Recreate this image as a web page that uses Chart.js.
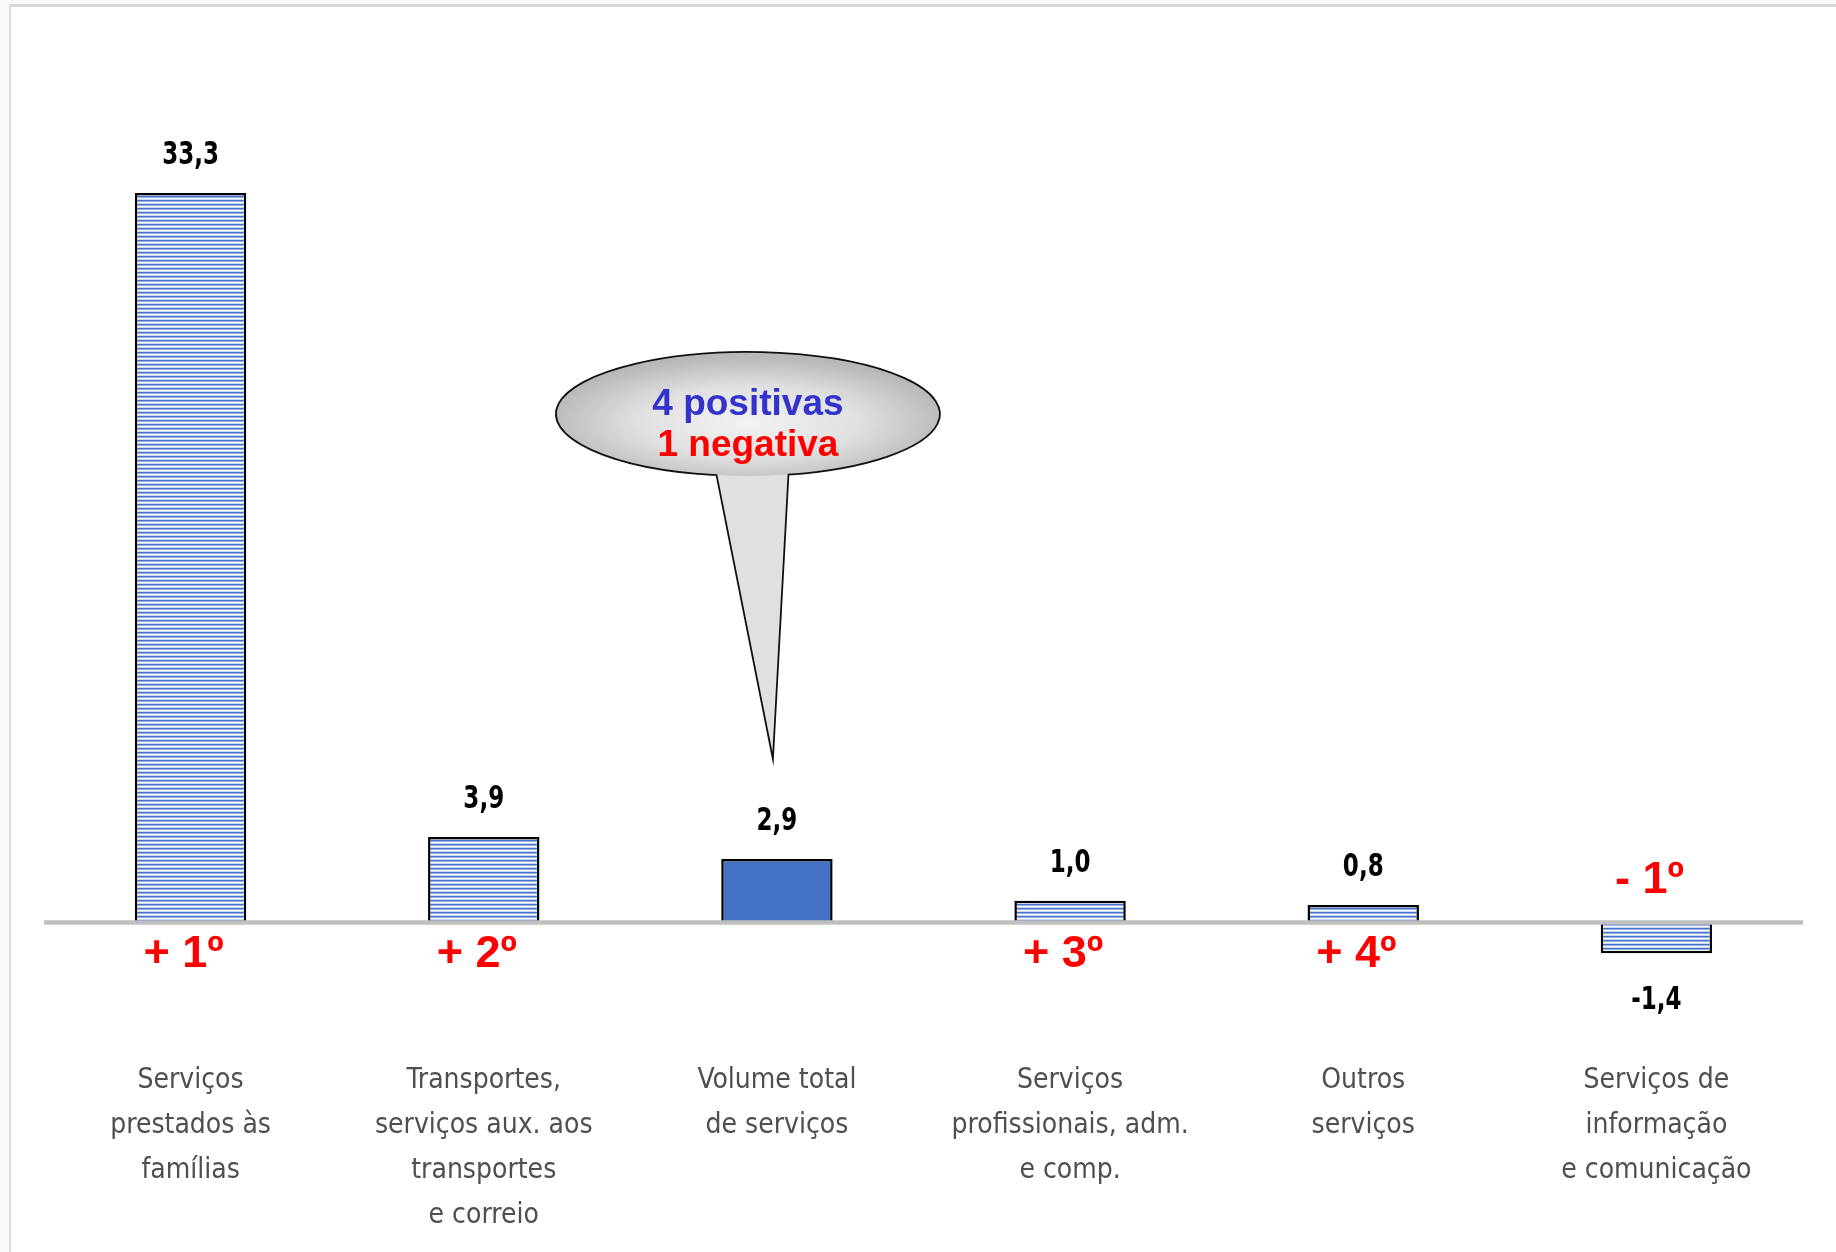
<!DOCTYPE html>
<html lang="pt">
<head>
<meta charset="utf-8">
<title>Volume de serviços</title>
<script src="https://cdn.jsdelivr.net/npm/chart.js@4"></script>
<style>
  html, body { margin: 0; padding: 0; background: #f9f9f9; overflow: hidden; }
  #frame {
    position: absolute; left: 9px; top: 4px; right: 0; bottom: 0;
    background: #fff;
    border-top: 3px solid #d6d6d6;
    border-left: 2px solid #dcdcdc;
  }
  #chart { position: absolute; left: 0; top: 0; }
</style>
</head>
<body>
<div id="frame"></div>
<canvas id="chart" width="1836" height="1252"></canvas>
<script>
// Chart data
const categories = [
  ['Serviços', 'prestados às', 'famílias'],
  ['Transportes,', 'serviços aux. aos', 'transportes', 'e correio'],
  ['Volume total', 'de serviços'],
  ['Serviços', 'profissionais, adm.', 'e comp.'],
  ['Outros', 'serviços'],
  ['Serviços de', 'informação', 'e comunicação']
];
const values = [33.3, 3.9, 2.9, 1.0, 0.8, -1.4];
const ranks = ['+ 1º', '+ 2º', '', '+ 3º', '+ 4º', '- 1º'];
const totalIndex = 2;
const calloutLines = ['4 positivas', '1 negativa'];

const NARROW = '"Liberation Sans Narrow", "DejaVu Sans Condensed", sans-serif';
const ARIAL = '"Liberation Sans", Arial, sans-serif';

// Horizontal stripe fill used by the sector bars
function makeStripes() {
  const c = document.createElement('canvas');
  c.width = 4;
  c.height = 4;
  const g = c.getContext('2d');
  const rows = ['#4472c4', '#93b2e6', '#ffffff', '#cad9f3'];
  rows.forEach((col, i) => {
    g.fillStyle = col;
    g.fillRect(0, i, 4, 1);
  });
  return g.createPattern(c, 'repeat');
}

const ctx = document.getElementById('chart').getContext('2d');
const stripes = makeStripes();
const barColors = values.map((v, i) => i === totalIndex ? '#4472c4' : stripes);

// condensed text, a bit like Calibri
function narrowText(c, txt, x, y, sx) {
  c.save();
  c.translate(x, y);
  c.scale(sx, 1);
  c.fillText(txt, 0, 0);
  c.restore();
}

// Zero line, value labels, ranking labels and the callout
const overlayPlugin = {
  id: 'overlay',
  afterDatasetsDraw(chart) {
    const c = chart.ctx;
    const area = chart.chartArea;
    const y0 = chart.scales.y.getPixelForValue(0);
    const bars = chart.getDatasetMeta(0).data;

    c.save();
    c.strokeStyle = '#c0c0c0';
    c.lineWidth = 4.5;
    c.beginPath();
    c.moveTo(area.left, y0);
    c.lineTo(area.right, y0);
    c.stroke();

    // values
    c.textAlign = 'center';
    c.textBaseline = 'middle';
    c.fillStyle = '#000';
    c.font = 'bold 32px ' + NARROW;
    bars.forEach((bar, i) => {
      const txt = values[i].toFixed(1).replace('.', ',');
      const y = values[i] >= 0 ? bar.y - 37 : bar.y + 47;
      narrowText(c, txt, bar.x, y, 0.8);
    });

    // ranking
    c.fillStyle = '#ff0000';
    c.font = 'bold 45px ' + ARIAL;
    bars.forEach((bar, i) => {
      if (!ranks[i]) return;
      const y = values[i] >= 0 ? y0 + 32 : y0 - 42;
      c.fillText(ranks[i], bar.x - 7, y);
    });

    // callout pointing at the total bar
    const tb = bars[totalIndex];
    const cx = tb.x - 29, cy = tb.y - 445, rx = 192, ry = 62;
    const tipX = tb.x - 4, tipY = tb.y - 100;
    const tL = 1.735, tR = 1.358;
    const shape = () => {
      c.beginPath();
      c.ellipse(cx, cy, rx, ry, 0, tL, tR);
      c.lineTo(tipX, tipY);
      c.closePath();
    };
    shape();
    c.fillStyle = '#e0e0e0';
    c.fill();

    c.save();
    c.beginPath();
    c.ellipse(cx, cy, rx, ry, 0, 0, Math.PI * 2);
    c.clip();
    c.translate(cx, cy + 8);
    c.scale(1, ry / rx);
    const grad = c.createRadialGradient(0, 0, 0, 0, 0, rx * 1.05);
    grad.addColorStop(0, '#f3f3f3');
    grad.addColorStop(0.55, '#e0e0e0');
    grad.addColorStop(1, '#b8b8b8');
    c.fillStyle = grad;
    c.fillRect(-rx * 1.2, -rx * 1.5, rx * 2.4, rx * 3);
    c.restore();

    shape();
    c.strokeStyle = '#111';
    c.lineWidth = 1.8;
    c.stroke();

    c.font = 'bold 37px ' + ARIAL;
    c.textBaseline = 'alphabetic';
    c.fillStyle = '#3333cc';
    c.fillText(calloutLines[0], cx, cy + 1);
    c.fillStyle = '#ff0000';
    c.fillText(calloutLines[1], cx, cy + 42);
    c.restore();
  }
};

new Chart(ctx, {
  type: 'bar',
  data: {
    labels: categories,
    datasets: [{
      data: values,
      backgroundColor: barColors,
      borderColor: '#000',
      borderWidth: 2.5,
      borderSkipped: 'start',
      categoryPercentage: 1,
      barPercentage: 0.38
    }]
  },
  options: {
    responsive: false,
    animation: false,
    devicePixelRatio: 1,
    layout: {
      padding: { left: 44, right: 33, top: 90, bottom: 10 }
    },
    plugins: {
      legend: { display: false },
      tooltip: { enabled: false }
    },
    scales: {
      x: {
        grid: { display: false, drawTicks: false },
        border: { display: false },
        ticks: {
          padding: 4,
          color: '#4f4f4f',
          font: { family: NARROW, size: 28, lineHeight: 1.607 },
          maxRotation: 0,
          autoSkip: false
        }
      },
      y: {
        display: false,
        min: -6,
        max: 38
      }
    }
  },
  plugins: [overlayPlugin]
});
</script>
</body>
</html>
